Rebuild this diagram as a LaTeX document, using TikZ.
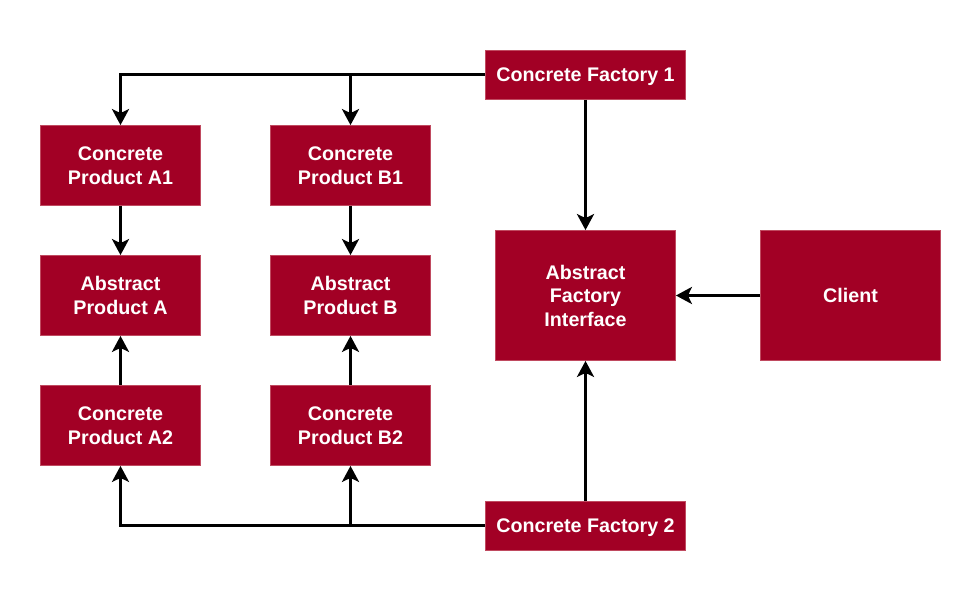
\documentclass[tikz,border=0pt]{standalone}
\usepackage{fontspec}
\setmainfont{Liberation Sans}
\usetikzlibrary{arrows.meta}
\definecolor{boxred}{HTML}{A20025}
\definecolor{boxedge}{HTML}{C04A60}
\tikzset{
  box/.style={rectangle, fill=boxred, draw=boxedge, line width=0.8pt,
    text=white, font=\fontsize{19.7}{23.5}\selectfont\bfseries,
    align=center, inner sep=0pt},
  prod/.style={box, minimum width=160pt, minimum height=80pt},
  fact/.style={box, minimum width=200pt, minimum height=49pt, text height=14pt, text depth=0pt},
  big/.style={box, minimum width=180pt, minimum height=130pt},
  arr/.style={line width=3pt, line join=miter, draw=black,
    -{Stealth[length=16pt,width=17pt,inset=4pt]}},
}
\begin{document}
\begin{tikzpicture}[x=1pt,y=-1pt]
\useasboundingbox (0,0) rectangle (980,591);
\node[fact] (cf1) at (585.5,75) {Concrete Factory 1};
\node[fact] (cf2) at (585.5,525.5) {Concrete Factory 2};
\node[prod] (a1) at (120.5,165.5) {Concrete\\Product A1};
\node[prod] (b1) at (350.5,165.5) {Concrete\\Product B1};
\node[prod] (pa) at (120.5,295.5) {Abstract\\Product A};
\node[prod] (pb) at (350.5,295.5) {Abstract\\Product B};
\node[prod] (a2) at (120.5,425.5) {Concrete\\Product A2};
\node[prod] (b2) at (350.5,425.5) {Concrete\\Product B2};
\node[big] (afi) at (585.5,295.5) {Abstract\\Factory\\Interface};
\node[big] (cl) at (850.5,295.5) {Client};
\coordinate (j1) at (b1.north |- cf1.west);
\coordinate (j2) at (b2.south |- cf2.west);
\draw[arr] (cf1.west) -| (a1.north);
\draw[arr] (j1) -- (b1.north);
\draw[arr] (cf1.south) -- (afi.north);
\draw[arr] (a1.south) -- (pa.north);
\draw[arr] (b1.south) -- (pb.north);
\draw[arr] (a2.north) -- (pa.south);
\draw[arr] (b2.north) -- (pb.south);
\draw[arr] (cf2.west) -| (a2.south);
\draw[arr] (j2) -- (b2.south);
\draw[arr] (cf2.north) -- (afi.south);
\draw[arr] (cl.west) -- (afi.east);
\end{tikzpicture}
\end{document}
